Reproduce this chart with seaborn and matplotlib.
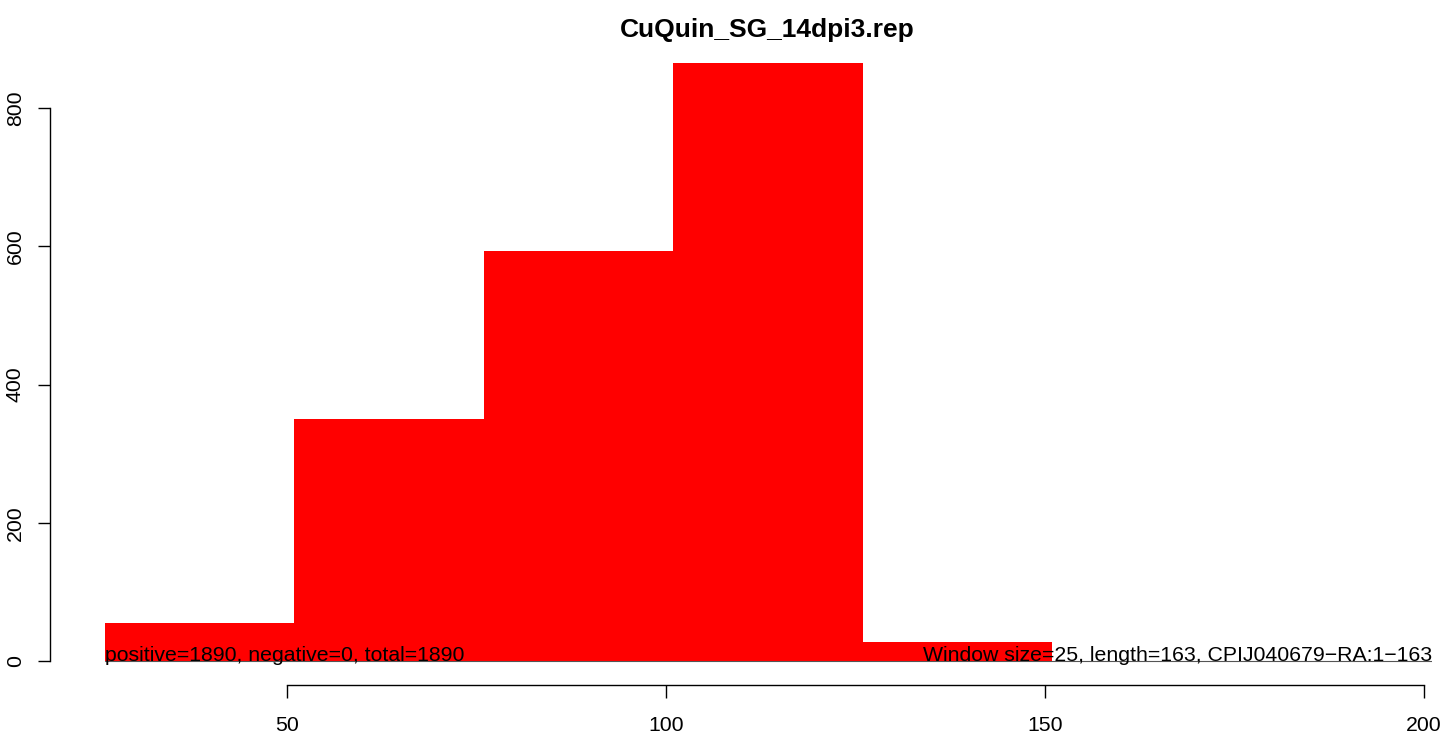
import matplotlib
matplotlib.use("Agg")
import matplotlib.pyplot as plt
import seaborn as sns
import numpy as np

# data
bin_edges = [26, 51, 76, 101, 126, 151]
counts = [55, 350, 593, 865, 27]
x_ticks = [50, 100, 150, 200]
y_ticks = [0, 200, 400, 600, 800]
title = "CuQuin_SG_14dpi3.rep"
left_note = "positive=1890, negative=0, total=1890"
right_note = "Window size=25, length=163, CPIJ040679\u2212RA:1\u2212163"

sns.set_style("white")
plt.rcParams['font.family'] = ['Liberation Sans', 'DejaVu Sans']

W, H = 1446, 736
fig = plt.figure(figsize=(W / 100, H / 100), dpi=100)
ax = fig.add_axes([50 / W, (H - 685) / H, (1432 - 50) / W, (685 - 39.4) / H])

centers = [(a + b) / 2 for a, b in zip(bin_edges[:-1], bin_edges[1:])]
sns.histplot(x=centers, weights=counts, bins=bin_edges, color="#ff0000",
             alpha=1, edgecolor="none", linewidth=0, ax=ax, zorder=2)

xmax = 201.05
ax.plot([bin_edges[0], xmax], [0, 0], color="#555555", lw=0.8, zorder=1)

ax.set_xlim(18.8, xmax)
ax.set_ylim(-34.6, 899.6)
ax.set_xticks(x_ticks)
ax.set_yticks(y_ticks)
ax.set_xlabel("")
ax.set_ylabel("")

for s in ["top", "right"]:
    ax.spines[s].set_visible(False)
ax.spines["left"].set_bounds(0, 800)
ax.spines["bottom"].set_bounds(50, 200)
for s in ["left", "bottom"]:
    ax.spines[s].set_color("black")
    ax.spines[s].set_linewidth(1.0)

ax.tick_params(axis="both", direction="out", length=9, width=1.0, color="black",
               labelsize=15.3, labelcolor="black")
ax.tick_params(axis="x", pad=13, bottom=True)
ax.tick_params(axis="y", pad=9, left=True)
for lbl in ax.get_yticklabels():
    lbl.set_rotation(90)
    lbl.set_va("center")

ax.text(bin_edges[0], 0, left_note, ha="left", va="baseline", fontsize=15.3,
        color="black", zorder=3)
ax.text(xmax, 0, right_note, ha="right", va="baseline", fontsize=15.3,
        color="black", zorder=3, clip_on=False)

fig.text(767 / W, 1 - 37 / H, title, ha="center", va="baseline",
         fontsize=19, fontweight="bold", color="black")

fig.savefig("out.png", dpi=100, facecolor="white")
